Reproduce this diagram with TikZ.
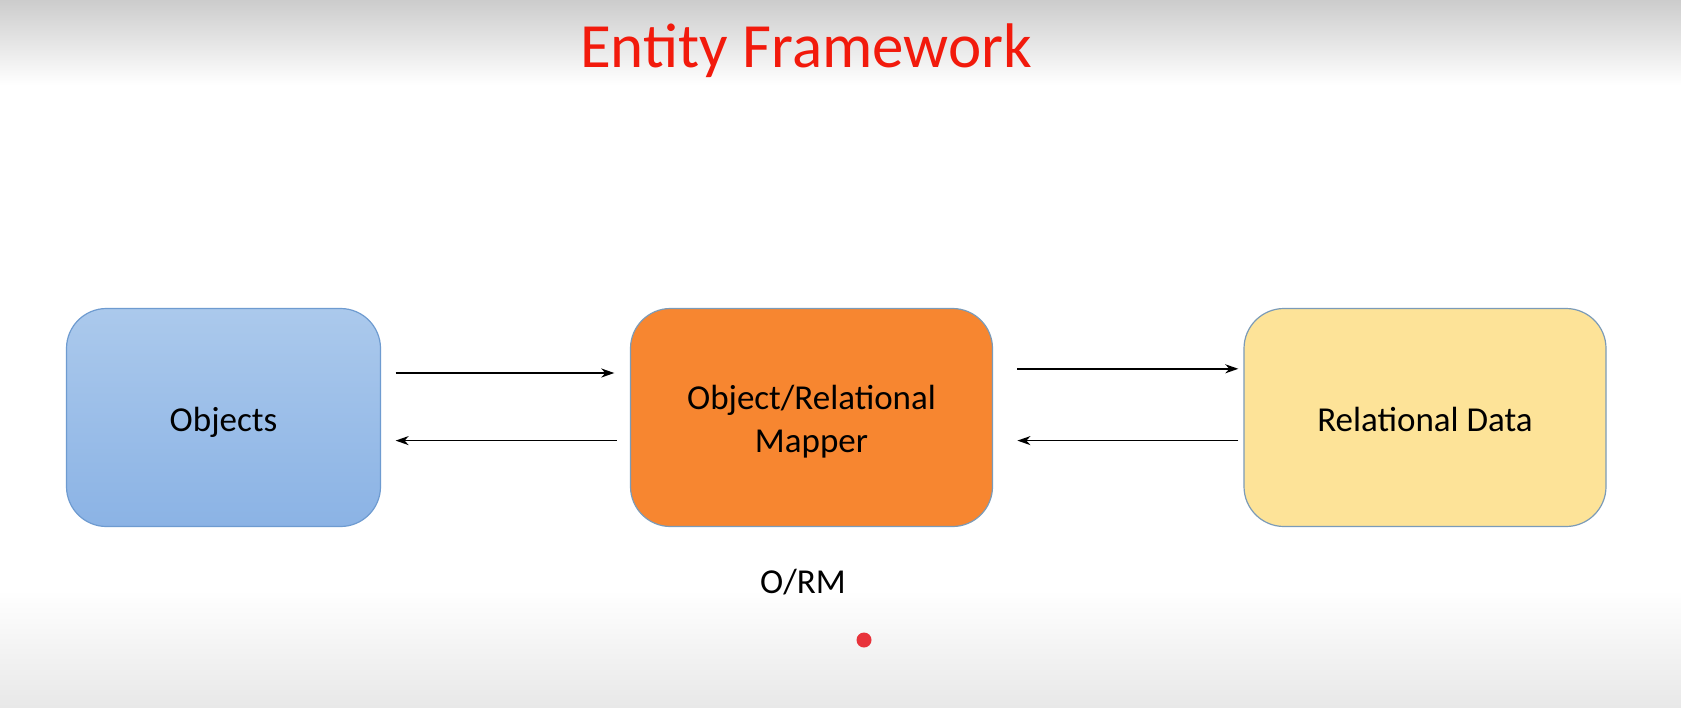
\documentclass[tikz,border=0pt]{standalone}
\usepackage{fontspec}
\setmainfont{Carlito}
\usetikzlibrary{arrows.meta}
\definecolor{titlered}{HTML}{F21A0C}
\definecolor{bluetop}{HTML}{ABC9EC}
\definecolor{bluebot}{HTML}{8BB3E5}
\definecolor{blueedge}{HTML}{6E9BD0}
\definecolor{orangefill}{HTML}{F78630}
\definecolor{yellowfill}{HTML}{FDE398}
\definecolor{greyedge}{HTML}{7B9BB8}
\definecolor{dotred}{HTML}{E8333B}
\newcommand\boxlift{\rule{0pt}{40pt}}
\tikzset{
  box/.style={rounded corners=40pt, minimum width=314pt, minimum height=218pt, line width=1.2pt, align=center, font=\fontsize{35}{43}\selectfont},
  conn/.style={line width=1.6pt, -{Stealth[length=13pt,width=9pt,inset=4pt]}},
}
\begin{document}
\begin{tikzpicture}[x=1pt,y=-1pt]
\useasboundingbox (0,0) rectangle (1681,707);
\fill[white] (0,0) rectangle (1681,707);
\shade[top color=black!20, bottom color=white] (0,0) rectangle (1681,85);
\shade[top color=white, bottom color=black!9] (0,590) rectangle (1681,707);
\node[font=\fontsize{63}{70}\selectfont, text=titlered] (title) at (806,51) {Entity Framework};
\node[box, top color=bluetop, bottom color=bluebot, draw=blueedge] (obj) at (223.5,417.5) {\boxlift\strut Objects};
\node[box, fill=orangefill, draw=greyedge, minimum width=362pt] (orm) at (811.5,417.5) {\boxlift\strut Object/Relational\\\strut Mapper};
\node[box, fill=yellowfill, draw=greyedge, minimum width=362pt] (rel) at (1425,417.5) {\boxlift\strut Relational Data};
\node[font=\fontsize{35}{40}\selectfont] (lbl) at (803,582) {O/RM};
\node[circle, fill=dotred, inner sep=0pt, minimum size=15pt] (dot) at (864,640) {};
\coordinate (a1s) at (395.6,373); \coordinate (a1e) at (614.3,373);
\coordinate (a2s) at (616.5,440.6); \coordinate (a2e) at (395.6,440.6);
\coordinate (a3s) at (1017.4,368.8); \coordinate (a3e) at (1238.3,368.8);
\coordinate (a4s) at (1238.3,440.6); \coordinate (a4e) at (1017.4,440.6);
\draw[conn] (a1s) -- (a1e);
\draw[conn] (a2s) -- (a2e);
\draw[conn] (a3s) -- (a3e);
\draw[conn] (a4s) -- (a4e);
\end{tikzpicture}
\end{document}
